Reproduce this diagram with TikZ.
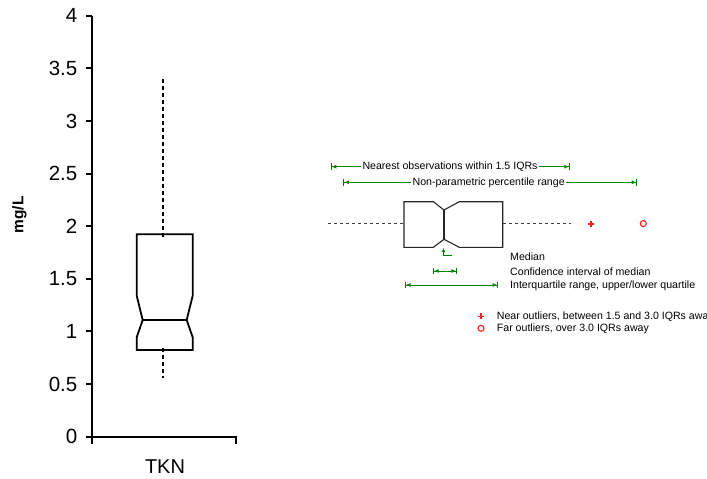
\documentclass[tikz,border=0pt]{standalone}
\usepackage{fontspec}
\setmainfont{Liberation Sans}
\usetikzlibrary{arrows.meta}
\definecolor{legendgreen}{RGB}{0,128,0}
\definecolor{outlierred}{RGB}{255,30,30}
\tikzset{
  axisline/.style={line width=2pt, black},
  boxline/.style={line width=1.8pt, black, line join=miter},
  whiskerline/.style={line width=2.2pt, black, dash pattern=on 4pt off 3pt},
  ticklabel/.style={anchor=east, inner sep=0pt, font=\fontsize{20.5}{24}\selectfont},
  legbox/.style={line width=1.1pt, black!85},
  legwhisker/.style={line width=1.1pt, black!75, dash pattern=on 3pt off 3pt},
  legarrow/.style={line width=1pt, legendgreen,
    {Bar[width=6.5pt,line width=1.1pt]Latex[length=4.5pt,width=4pt]}-{Latex[length=4.5pt,width=4pt]Bar[width=6.5pt,line width=1.1pt]}},
  legtext/.style={inner sep=0pt, font=\fontsize{10.6}{12}\selectfont},
  legtextbg/.style={legtext, fill=white, inner xsep=1.5pt, inner ysep=1pt},
  plusmark/.style={line width=1.4pt, outlierred},
  ringmark/.style={draw=outlierred, circle, line width=1.1pt, minimum size=6pt, inner sep=0pt},
}
\begin{document}
\begin{tikzpicture}[x=1pt,y=-1pt]
\useasboundingbox (0,0) rectangle (707,479);

% ---- axes ----
\coordinate (ytop) at (92,15.7);
\coordinate (ybot) at (92,443.5);
\coordinate (xright) at (236,436.7);
\coordinate (xrighttick) at (236,443.5);
\draw[axisline] (ytop) -- (ybot);
\draw[axisline] (92,436.7) -- (xright) -- (xrighttick);

% y ticks and labels: value v sits at y = 436.7 - 105.25 v
\foreach \v/\lab in {0/0,0.5/0.5,1/1,1.5/1.5,2/2,2.5/2.5,3/3,3.5/3.5,4/4}{
  \draw[axisline] (86,{436.7-105.25*\v}) -- (92,{436.7-105.25*\v});
  \node[ticklabel] (tick\lab) at (77.5,{436.7-105.25*\v}) {\lab};
}

\node[rotate=90, inner sep=0pt, font=\bfseries\fontsize{15.5}{18}\selectfont] (ylabel) at (19.5,215) {mg/L};
\node[inner sep=0pt, font=\fontsize{20}{24}\selectfont] (xlabel) at (165,466.7) {TKN};

% ---- notched box plot of TKN ----
\draw[boxline] (136.7,234.3) -- (192.7,234.3) -- (192.7,295.7) -- (186.7,320)
  -- (192.7,337.3) -- (192.7,350) -- (136.7,350) -- (136.7,337.3)
  -- (142.7,320) -- (136.7,295.7) -- cycle;
\draw[boxline] (142.7,320) -- (186.7,320);
\coordinate (whiskhi) at (163.3,76);
\coordinate (boxtop) at (163.3,237);
\coordinate (boxbot) at (163.3,348);
\coordinate (whisklo) at (163.3,378.3);
\draw[whiskerline] (boxtop) -- (whiskhi);
\draw[whiskerline] (boxbot) -- (whisklo);

% ---- legend ----
\coordinate (nearL) at (330.7,166.7);
\coordinate (nearR) at (570,166.7);
\draw[legarrow] (nearL) -- (nearR);
\node[legtextbg] (neartxt) at (450,166.7) {Nearest observations within 1.5 IQRs};

\coordinate (npL) at (343.3,182.3);
\coordinate (npR) at (637.3,182.3);
\draw[legarrow] (npL) -- (npR);
\node[legtextbg] (nptxt) at (488.7,182.3) {Non-parametric percentile range};

% sample notched box, drawn horizontally
\draw[legbox] (404,201.7) -- (433.3,201.7) -- (444,210) -- (459.3,201.7)
  -- (502.7,201.7) -- (502.7,247.3) -- (459.3,247.3) -- (444,239.3)
  -- (433.3,247.3) -- (404,247.3) -- cycle;
\draw[legbox] (444,210) -- (444,239.3);
\coordinate (lwl) at (328.3,223.3);
\coordinate (lwlbox) at (404,223.3);
\coordinate (lwrbox) at (502.7,223.3);
\coordinate (lwr) at (570.7,223.3);
\draw[legwhisker] (lwl) -- (lwlbox);
\draw[legwhisker] (lwrbox) -- (lwr);

% outlier markers
\coordinate (nearmark) at (591,223.8);
\draw[plusmark] ([xshift=-3pt]nearmark) -- ([xshift=3pt]nearmark)
  ([yshift=-3pt]nearmark) -- ([yshift=3pt]nearmark);
\node[ringmark] (farmark) at (643.3,223.6) {};

% median pointer
\coordinate (medtip) at (443.5,248);
\coordinate (medcorner) at (443.5,255.7);
\coordinate (medfoot) at (451.7,255.7);
\draw[line width=1.1pt, legendgreen, {Latex[length=4pt,width=4pt]}-] (medtip) -- (medcorner) -- (medfoot);
\node[legtext, anchor=west] (medtxt) at (510,256.7) {Median};

\coordinate (ciL) at (433,271);
\coordinate (ciR) at (457,271);
\draw[legarrow] (ciL) -- (ciR);
\node[legtext, anchor=west] (citxt) at (510,271.7) {Confidence interval of median};

\coordinate (iqL) at (405,285);
\coordinate (iqR) at (498.3,285);
\draw[legarrow] (iqL) -- (iqR);
\node[legtext, anchor=west] (iqtxt) at (510,285.3) {Interquartile range, upper/lower quartile};

\coordinate (nearkey) at (481,316.2);
\draw[plusmark] ([xshift=-3pt]nearkey) -- ([xshift=3pt]nearkey)
  ([yshift=-3pt]nearkey) -- ([yshift=3pt]nearkey);
\node[legtext, anchor=west] (neartxt2) at (496.7,316.3) {Near outliers, between 1.5 and 3.0 IQRs away};
\node[ringmark] (farkey) at (481,328.3) {};
\node[legtext, anchor=west] (fartxt) at (496.7,328.6) {Far outliers, over 3.0 IQRs away};
\end{tikzpicture}
\end{document}
